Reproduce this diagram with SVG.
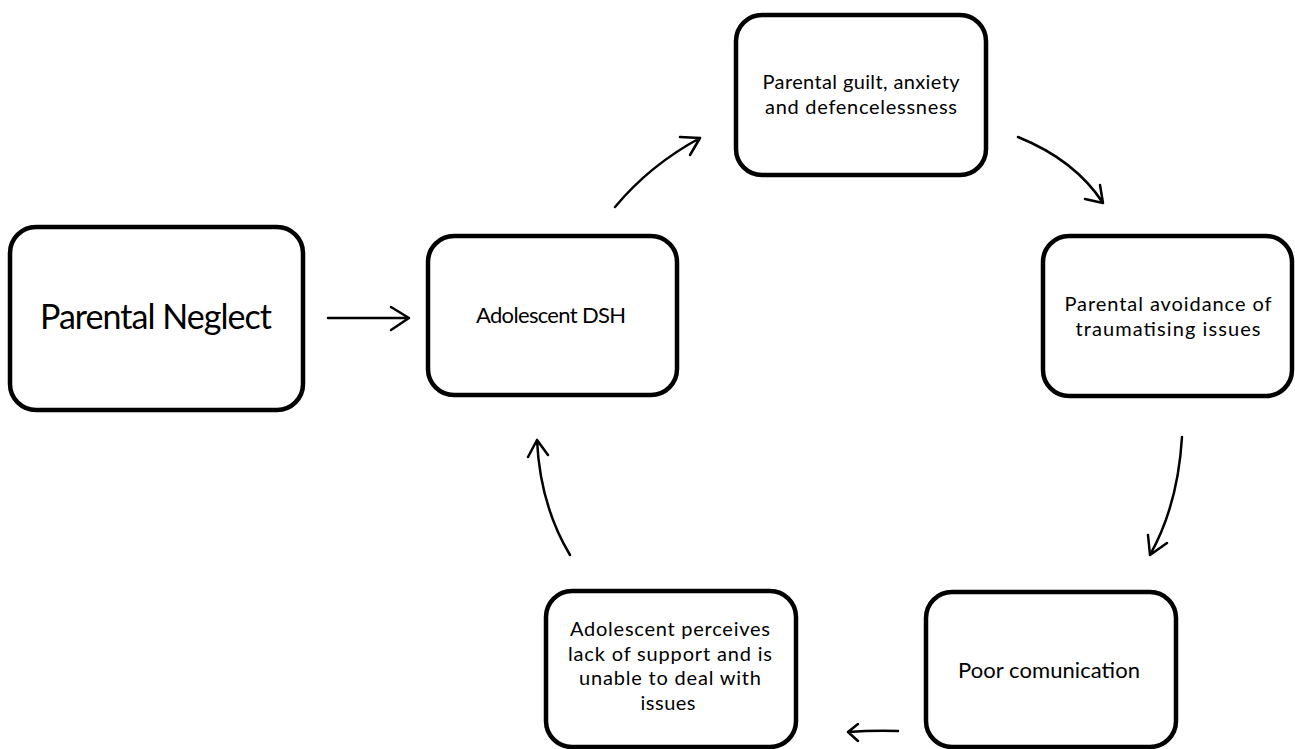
<svg xmlns="http://www.w3.org/2000/svg" width="1295" height="749" viewBox="0 0 1295 749">
<style>
.box{fill:#fff;stroke:#000;stroke-width:4.5}
.t{font-family:Lato,"Open Sans","Liberation Sans",sans-serif;font-size:22px;fill:#000;text-anchor:middle}
.m{font-size:20px}
.big{font-size:34px}
.c{fill:none;stroke:#000;stroke-width:2.5;stroke-linecap:round;stroke-linejoin:round}
</style>
<rect width="1295" height="749" fill="#fff"/>
<g id="parental-neglect">
<rect class="box" x="10" y="227" width="293" height="183" rx="26"/>
<text class="t big" x="156" y="329" textLength="232">Parental Neglect</text>
</g>
<g id="adolescent-dsh">
<rect class="box" x="428" y="236" width="249" height="159" rx="26"/>
<text class="t" x="551" y="323" textLength="150">Adolescent DSH</text>
</g>
<g id="parental-guilt">
<rect class="box" x="736" y="15" width="250" height="160" rx="26"/>
<text class="t m" x="861" y="89" textLength="197">Parental guilt, anxiety</text>
<text class="t m" x="861" y="114" textLength="192">and defencelessness</text>
</g>
<g id="parental-avoidance">
<rect class="box" x="1043" y="236" width="249" height="160" rx="26"/>
<text class="t m" x="1168" y="311" textLength="207">Parental avoidance of</text>
<text class="t m" x="1168" y="336" textLength="185">traumatising issues</text>
</g>
<g id="poor-communication">
<rect class="box" x="926" y="592" width="250" height="155" rx="26"/>
<text class="t" x="1049" y="678" textLength="182">Poor comunication</text>
</g>
<g id="adolescent-perceives">
<rect class="box" x="546" y="591" width="250" height="156" rx="26"/>
<text class="t m" x="670" y="636" textLength="200">Adolescent perceives</text>
<text class="t m" x="670" y="660.5" textLength="204">lack of support and is</text>
<text class="t m" x="670" y="685" textLength="182">unable to deal with</text>
<text class="t m" x="668" y="709.5" textLength="55">issues</text>
</g>
<g id="connectors">
<path class="c" d="M328 318 L409 318 M391 307 L409 318 L391 330"/>
<path class="c" d="M615 207 Q650 165 700 138 M680 137 L700 138 L690 155"/>
<path class="c" d="M1018 137 Q1075 160 1103 203 M1085 199 L1103 203 L1100 185"/>
<path class="c" d="M1182 437 Q1178 505 1150 555 M1148 535 L1150 555 L1167 543"/>
<path class="c" d="M898 731 Q875 730 848 732 M858 724 L848 732 L858 741"/>
<path class="c" d="M570 555 Q540 505 537 440 M528 457 L537 440 L548 455"/>
</g>
</svg>
